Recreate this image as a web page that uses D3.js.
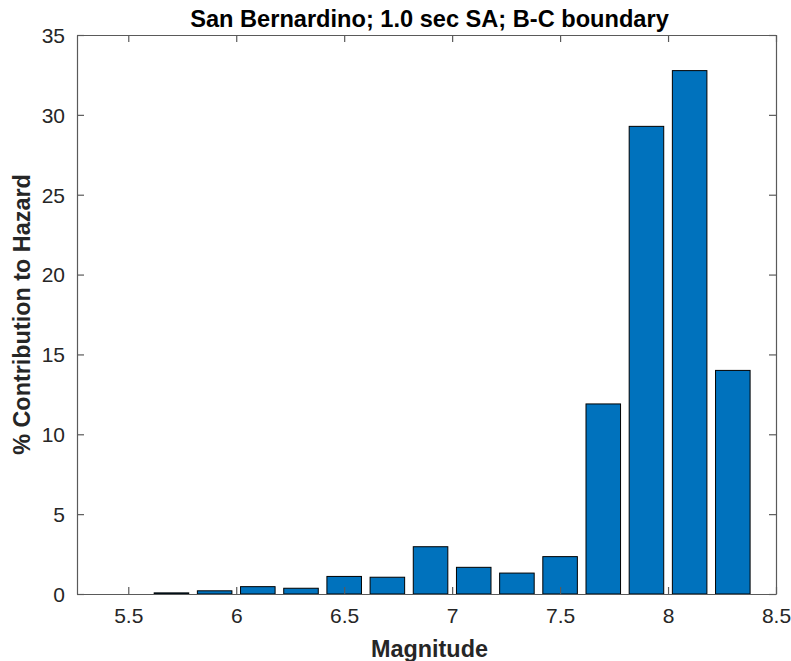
<!DOCTYPE html>
<html><head><meta charset="utf-8">
<script src="https://cdn.jsdelivr.net/npm/d3@7"></script>
<style>body{margin:0;background:#fff;} svg{display:block;}</style>
</head><body>
<svg id="chart" width="791" height="661"></svg>
<script>
const magnitudes = [5.7, 5.9, 6.1, 6.3, 6.5, 6.7, 6.9, 7.1, 7.3, 7.5, 7.7, 7.9, 8.1, 8.3];
const contributions = [0.07, 0.2, 0.46, 0.36, 1.1, 1.05, 2.96, 1.67, 1.31, 2.34, 11.9, 29.28, 32.77, 14.0];
const xTicks = [5.5, 6, 6.5, 7, 7.5, 8, 8.5];
const yTicks = [0, 5, 10, 15, 20, 25, 30, 35];
const titleText = "San Bernardino; 1.0 sec SA; B-C boundary";
const xLabel = "Magnitude";
const yLabel = "% Contribution to Hazard";

(function () {
const svg = d3.select("#chart");
const L = 77, R = 776, T = 35, B = 594;
const x = d3.scaleLinear().domain([5.2625, 8.5]).range([L, R]);
const y = d3.scaleLinear().domain([0, 35]).range([B, T]);
const barW = x(5.5 + 0.16) - x(5.5);
const axisColor = "#5a5a5a";
const textColor = "#262626";
const font = "'Liberation Sans', Arial, Helvetica, sans-serif";

svg.append("g").selectAll("rect").data(magnitudes).enter().append("rect")
  .attr("x", (d) => x(d) - barW / 2)
  .attr("y", (d, i) => y(contributions[i]))
  .attr("width", barW)
  .attr("height", (d, i) => y(0) - y(contributions[i]))
  .attr("fill", "#0072BD")
  .attr("stroke", "#000")
  .attr("stroke-width", 1);

const tickLen = 7;
const gBottom = svg.append("g").attr("transform", `translate(0,${B})`)
  .call(d3.axisBottom(x).tickValues(xTicks).tickSizeInner(-tickLen).tickSizeOuter(0).tickPadding(14).tickFormat(d3.format("")));
const gTop = svg.append("g").attr("transform", `translate(0,${T})`)
  .call(d3.axisTop(x).tickValues(xTicks).tickSizeInner(-tickLen).tickSizeOuter(0).tickFormat(""));
const gLeft = svg.append("g").attr("transform", `translate(${L},0)`)
  .call(d3.axisLeft(y).tickValues(yTicks).tickSizeInner(-tickLen).tickSizeOuter(0).tickPadding(12).tickFormat(d3.format("")));
const gRight = svg.append("g").attr("transform", `translate(${R},0)`)
  .call(d3.axisRight(y).tickValues(yTicks).tickSizeInner(-tickLen).tickSizeOuter(0).tickFormat(""));

[gBottom, gTop, gLeft, gRight].forEach(g => {
  g.selectAll("path.domain").attr("stroke", axisColor).attr("stroke-width", 1.2);
  g.selectAll(".tick line").attr("stroke", axisColor).attr("stroke-width", 1.2);
  g.selectAll(".tick text").attr("fill", textColor).style("font-family", font).style("font-size", "21px");
});
gBottom.selectAll(".tick text").attr("dy", "0.71em");
gLeft.selectAll(".tick text").attr("dy", "0.35em");

svg.append("text").attr("x", (L + R) / 2 + 3).attr("y", 27)
  .attr("text-anchor", "middle").style("font-family", font).style("font-size", "23.6px")
  .style("font-weight", "bold").attr("fill", "#000").text(titleText);

svg.append("text").attr("x", (L + R) / 2 + 3).attr("y", 657)
  .attr("text-anchor", "middle").style("font-family", font).style("font-size", "23.4px")
  .style("font-weight", "bold").attr("fill", textColor).text(xLabel);

svg.append("text").attr("transform", `translate(30,${(T + B) / 2}) rotate(-90)`)
  .attr("text-anchor", "middle").style("font-family", font).style("font-size", "23.4px")
  .style("font-weight", "bold").attr("fill", textColor).text(yLabel);
})();
</script>
</body></html>
